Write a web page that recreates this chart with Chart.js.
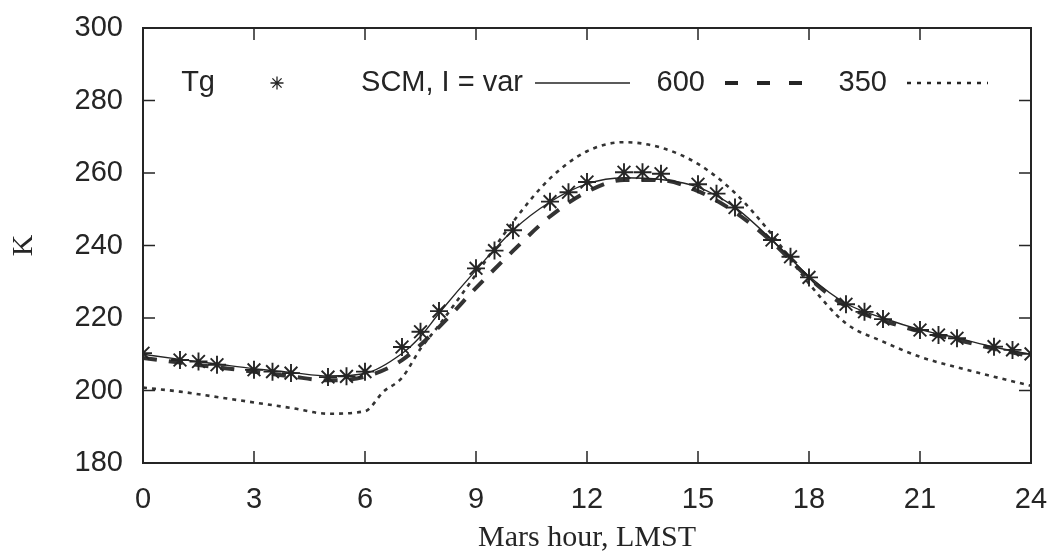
<!DOCTYPE html>
<html>
<head>
<meta charset="utf-8">
<script src="https://cdn.jsdelivr.net/npm/chart.js@4"></script>
<style>
    body { margin: 0; background: #fff; }
    canvas { display: block; }
</style>
</head>
<body>
<canvas id="marsChart" width="1053" height="553"></canvas>
<script>

/* DATA */

const tgHours = [0, 1, 1.5, 2, 3, 3.5, 4, 5, 5.5, 6, 7, 7.5, 8, 9, 9.5, 10, 11, 11.5, 12, 13, 13.5, 14, 15, 15.5, 16, 17, 17.5, 18, 19, 19.5, 20, 21, 21.5, 22, 23, 23.5, 24];
const tgValues = [210.3, 208.4, 208, 207.1, 205.7, 205.2, 204.8, 203.7, 203.9, 205.2, 212, 216.2, 221.9, 233.7, 238.6, 244.2, 252.1, 254.7, 257.5, 260.2, 260.2, 259.8, 256.9, 254.3, 250.5, 241.5, 236.9, 231.2, 223.8, 221.7, 219.7, 216.7, 215.3, 214.4, 212.1, 211.2, 210.1];

const scmHours = [0, 1, 2, 3, 4, 5, 6, 7, 7.5, 8, 9, 10, 11, 12, 13, 14, 15, 16, 17, 18, 19, 20, 21, 22, 23, 24];
const scmValues = [210, 208.6, 207.3, 206, 205, 204, 204.7, 210.2, 214.9, 221.3, 233.2, 244.2, 252, 257, 258.7, 258.2, 256.1, 250.5, 241.5, 231.5, 224, 220, 216.8, 214.5, 212, 210];

const i600Hours = [0, 1, 2, 3, 4, 5, 6, 7, 8, 9, 10, 11, 12, 13, 14, 15, 16, 17, 18, 19, 20, 21, 22, 23, 24];
const i600Values = [209, 207.7, 206.4, 205.2, 203.9, 202.8, 203.8, 208.4, 217.5, 228.3, 238.5, 248, 254.8, 258.1, 258, 255, 249.2, 241, 231, 223.3, 219.3, 216.3, 214, 211.5, 209.5];

const i350Hours = [0, 1, 2, 3, 4, 5, 6, 6.5, 7, 7.5, 8, 9, 10, 11, 12, 13, 14, 15, 16, 17, 18, 19, 20, 21, 22, 23, 24];
const i350Values = [200.8, 199.7, 198.2, 196.7, 195.2, 193.6, 194.3, 199.7, 203.5, 211.5, 218, 232, 246.5, 258.5, 266, 268.5, 267, 262.5, 254.5, 243, 229.5, 218.5, 213.5, 209.3, 206.4, 203.8, 201.3];

const xTicks = [0, 3, 6, 9, 12, 15, 18, 21, 24];
const yTicks = [180, 200, 220, 240, 260, 280, 300];

const legendLabels = ["Tg", "SCM, I = var", "600", "350"];


/* HELPERS */

const toPoints = (xs, ys) => xs.map((x, i) => ({ x: x, y: ys[i] }));

const ink = "#252525";
const sans = "'Liberation Sans', Arial, sans-serif";
const serif = "'Liberation Serif', 'Times New Roman', serif";


/* FRAME + INWARD TICKS + LEGEND */

const framePlugin = {
    id: "frame",
    afterDraw(chart) {
        const c = chart.ctx;
        const a = chart.chartArea;
        const xs = chart.scales.x;
        const ys = chart.scales.y;

        c.save();
        c.strokeStyle = ink;
        c.lineWidth = 2;
        c.strokeRect(a.left, a.top, a.right - a.left, a.bottom - a.top);

        c.lineWidth = 1.5;
        c.beginPath();
        xTicks.forEach(v => {
            const px = xs.getPixelForValue(v);
            c.moveTo(px, a.bottom);
            c.lineTo(px, a.bottom - 12);
            c.moveTo(px, a.top);
            c.lineTo(px, a.top + 12);
        });
        yTicks.forEach(v => {
            const py = ys.getPixelForValue(v);
            c.moveTo(a.left, py);
            c.lineTo(a.left + 12, py);
            c.moveTo(a.right, py);
            c.lineTo(a.right - 12, py);
        });
        c.stroke();

        // legend row (gnuplot style: text, then sample)
        const ly = 83;
        c.font = "29px " + sans;
        c.fillStyle = ink;
        c.textAlign = "right";
        c.textBaseline = "middle";
        c.fillText(legendLabels[0], 215, ly);
        c.fillText(legendLabels[1], 523, ly);
        c.fillText(legendLabels[2], 705, ly);
        c.fillText(legendLabels[3], 887, ly);

        // star sample
        c.lineWidth = 1.3;
        c.beginPath();
        const r = 6.5;
        for (let k = 0; k < 4; k++) {
            const ang = k * Math.PI / 4;
            c.moveTo(277 - r * Math.sin(ang), ly - r * Math.cos(ang));
            c.lineTo(277 + r * Math.sin(ang), ly + r * Math.cos(ang));
        }
        c.stroke();

        // solid sample
        c.lineWidth = 1.3;
        c.beginPath();
        c.moveTo(535, ly);
        c.lineTo(630, ly);
        c.stroke();

        // dashed sample
        c.lineWidth = 4;
        c.setLineDash([13, 19]);
        c.beginPath();
        c.moveTo(725, ly);
        c.lineTo(804, ly);
        c.stroke();

        // dotted sample
        c.lineWidth = 2.5;
        c.setLineDash([4, 6]);
        c.beginPath();
        c.moveTo(907, ly);
        c.lineTo(988, ly);
        c.stroke();

        c.restore();
    }
};


/* CHART */

const ctx = document.getElementById("marsChart");

new Chart(ctx, {

    type: "line",

    data: {
        datasets: [
            {
                label: legendLabels[0],
                data: toPoints(tgHours, tgValues),
                showLine: false,
                pointStyle: "star",
                pointRadius: 9,
                pointBorderWidth: 1.9,
                pointBorderColor: ink,
                pointBackgroundColor: ink,
                order: 0
            },
            {
                label: legendLabels[1],
                data: toPoints(scmHours, scmValues),
                borderColor: ink,
                borderWidth: 1.4,
                pointRadius: 0,
                cubicInterpolationMode: "monotone",
                order: 1
            },
            {
                label: legendLabels[2],
                data: toPoints(i600Hours, i600Values),
                borderColor: "#333",
                borderWidth: 4,
                borderDash: [14, 12],
                pointRadius: 0,
                cubicInterpolationMode: "monotone",
                order: 2
            },
            {
                label: legendLabels[3],
                data: toPoints(i350Hours, i350Values),
                borderColor: "#333",
                borderWidth: 2.6,
                borderDash: [4, 5],
                pointRadius: 0,
                cubicInterpolationMode: "monotone",
                order: 3
            }
        ]
    },

    options: {
        responsive: false,
        animation: false,
        layout: {
            padding: { top: 28, right: 22, left: 0, bottom: 0 }
        },
        plugins: {
            legend: { display: false },
            tooltip: { enabled: false }
        },
        scales: {
            x: {
                type: "linear",
                min: 0,
                max: 24,
                afterBuildTicks: s => { s.ticks = xTicks.map(v => ({ value: v })); },
                afterFit: s => {
                    s.height = 90;
                    s.paddingLeft = 0;
                    s.paddingRight = 0;
                },
                grid: { display: false },
                border: { display: false },
                ticks: {
                    padding: 12,
                    color: ink,
                    font: { family: sans, size: 29 }
                },
                title: {
                    display: true,
                    text: "Mars hour, LMST",
                    color: ink,
                    padding: 0,
                    font: { family: serif, size: 30, lineHeight: 1 }
                }
            },
            y: {
                min: 180,
                max: 300,
                afterBuildTicks: s => { s.ticks = yTicks.map(v => ({ value: v })); },
                afterFit: s => {
                    s.width = 143;
                    s.paddingTop = 0;
                    s.paddingBottom = 0;
                },
                grid: { display: false },
                border: { display: false },
                ticks: {
                    padding: 12,
                    color: ink,
                    font: { family: sans, size: 29 }
                },
                title: {
                    display: true,
                    text: "K",
                    color: ink,
                    padding: { top: 6, bottom: 0 },
                    font: { family: serif, size: 30, lineHeight: 1.2 }
                }
            }
        }
    },

    plugins: [framePlugin]

});

</script>
</body>
</html>
